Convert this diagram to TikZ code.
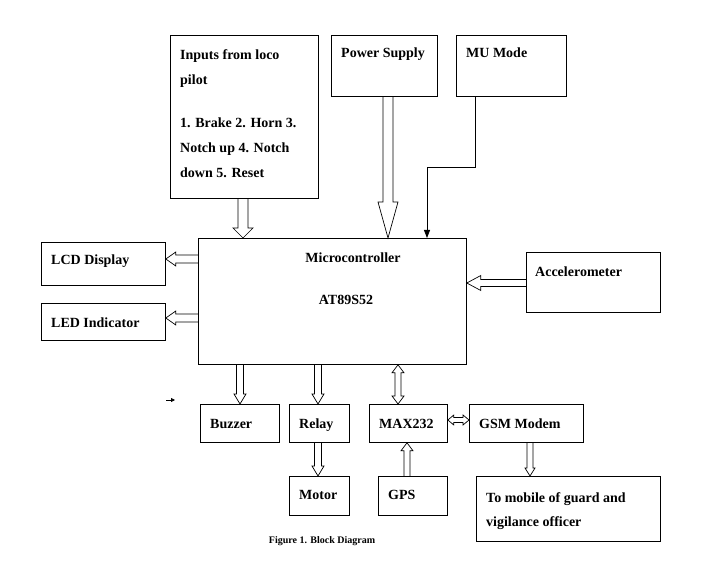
\documentclass[tikz,border=0pt]{standalone}
\usepackage{fontspec}
\setmainfont{Liberation Serif}
\usetikzlibrary{arrows.meta,calc}

% hollow block arrow: from, to, shaft half width, head half width, head length
\newcommand{\blkarrow}[5]{%
  \path ($(#2)!#5!(#1)$) coordinate (hb);
  \draw[line width=0.7pt] ($(#1)!#3!90:(#2)$) -- ($(hb)!#3!90:(#2)$) -- ($(hb)!#4!90:(#2)$) -- (#2)
    -- ($(hb)!#4!-90:(#2)$) -- ($(hb)!#3!-90:(#2)$) -- ($(#1)!#3!-90:(#2)$);
}
% same, with a head at both ends
\newcommand{\dblarrow}[5]{%
  \path ($(#2)!#5!(#1)$) coordinate (hb) ($(#1)!#5!(#2)$) coordinate (ha);
  \draw[line width=0.7pt] (#1) -- ($(ha)!#4!90:(#2)$) -- ($(ha)!#3!90:(#2)$) -- ($(hb)!#3!90:(#2)$)
    -- ($(hb)!#4!90:(#2)$) -- (#2) -- ($(hb)!#4!-90:(#2)$) -- ($(hb)!#3!-90:(#2)$)
    -- ($(ha)!#3!-90:(#2)$) -- ($(ha)!#4!-90:(#2)$) -- cycle;
}

\begin{document}
\begin{tikzpicture}[x=1pt,y=-1pt,
  every node/.style={font=\fontsize{14}{25}\selectfont\bfseries},
  blk/.style={draw,line width=0.8pt,anchor=north west,inner sep=0pt},
  txt/.style={anchor=base west,inner sep=0pt,align=left}]
  \useasboundingbox (0,0) rectangle (723,569);
  % blocks
  \node[blk,minimum width=148pt,minimum height=163pt] (inp) at (170,35) {};
  \node[blk,minimum width=106pt,minimum height=61pt] (ps) at (331,35) {};
  \node[blk,minimum width=110pt,minimum height=61pt] (mu) at (456,35) {};
  \node[blk,minimum width=268pt,minimum height=126pt] (mcu) at (198,238) {};
  \node[blk,minimum width=124pt,minimum height=43pt] (lcd) at (41,242) {};
  \node[blk,minimum width=124pt,minimum height=37pt] (led) at (41,303) {};
  \node[blk,minimum width=134pt,minimum height=60pt] (acc) at (526,252) {};
  \node[blk,minimum width=79pt,minimum height=38pt] (buz) at (200,404) {};
  \node[blk,minimum width=60pt,minimum height=38pt] (rel) at (289,404) {};
  \node[blk,minimum width=78pt,minimum height=38pt] (max) at (369,404) {};
  \node[blk,minimum width=60pt,minimum height=39pt] (mot) at (289,476) {};
  \node[blk,minimum width=69pt,minimum height=39pt] (gps) at (378,476) {};
  \node[blk,minimum width=114pt,minimum height=38pt] (gsm) at (469,404) {};
  \node[blk,minimum width=184pt,minimum height=65pt] (mob) at (476,476) {};
  % texts
  \node[txt] (inpT) at (180,178) {Inputs from loco\\pilot\\[18pt]1. Brake 2. Horn 3.\\Notch up 4. Notch\\down 5. Reset};
  \node[txt] (psT) at (341,58) {Power Supply};
  \node[txt] (muT) at (466,58) {MU Mode};
  \node[anchor=base,inner sep=0pt] (mcuT) at (353,263) {Microcontroller};
  \node[anchor=base,inner sep=0pt] (mcuT2) at (346,305) {AT89S52};
  \node[txt] (lcdT) at (51,265) {LCD Display};
  \node[txt] (ledT) at (51,327) {LED Indicator};
  \node[txt] (accT) at (535,277) {Accelerometer};
  \node[txt] (buzT) at (210,428) {Buzzer};
  \node[txt] (relT) at (299,428) {Relay};
  \node[txt] (maxT) at (379,428) {MAX232};
  \node[txt] (motT) at (299,499) {Motor};
  \node[txt] (gpsT) at (388,499) {GPS};
  \node[txt] (gsmT) at (479,428) {GSM Modem};
  \node[txt,font=\fontsize{14}{24}\selectfont\bfseries] (mobT) at (486,526) {To mobile of guard and\\vigilance officer};
  \node[anchor=base,inner sep=0pt,font=\fontsize{10}{12}\selectfont\bfseries] (cap) at (322,543) {Figure 1. Block Diagram};
  % connectors
  \blkarrow{243,0 |- inp.south}{243,0 |- mcu.north}{5pt}{10pt}{10pt}
  \blkarrow{388,0 |- ps.south}{388,0 |- mcu.north}{5pt}{10pt}{36pt}
  \draw[line width=0.8pt,-{Triangle[length=8pt,width=6pt]}] (475,0 |- mu.south) -- (475,167) -- (427,167) -- (427,0 |- mcu.north);
  \blkarrow{mcu.west |- 0,259}{lcd.east |- 0,259}{4pt}{7pt}{10pt}
  \blkarrow{mcu.west |- 0,318}{led.east |- 0,318}{4pt}{7pt}{10pt}
  \blkarrow{acc.west |- 0,283}{mcu.east |- 0,283}{3.5pt}{7.5pt}{14pt}
  \blkarrow{240,0 |- mcu.south}{240,0 |- buz.north}{3.5pt}{6pt}{10pt}
  \blkarrow{318,0 |- mcu.south}{318,0 |- rel.north}{3.5pt}{6pt}{10pt}
  \dblarrow{398,0 |- mcu.south}{398,0 |- max.north}{3pt}{6pt}{8pt}
  \blkarrow{318,0 |- rel.south}{318,0 |- mot.north}{3.5pt}{6pt}{10pt}
  \blkarrow{407,0 |- gps.north}{407,0 |- max.south}{3pt}{6pt}{8pt}
  \dblarrow{max.east |- 0,420}{gsm.west |- 0,420}{2.5pt}{5pt}{6pt}
  \blkarrow{530,0 |- gsm.south}{530,0 |- mob.north}{3pt}{5pt}{8pt}
  % stray mark
  \coordinate (mk) at (166,400);
  \draw[line width=0.8pt,-{Triangle[length=4pt,width=4pt]}] (mk) -- ++(9,0);
\end{tikzpicture}
\end{document}
